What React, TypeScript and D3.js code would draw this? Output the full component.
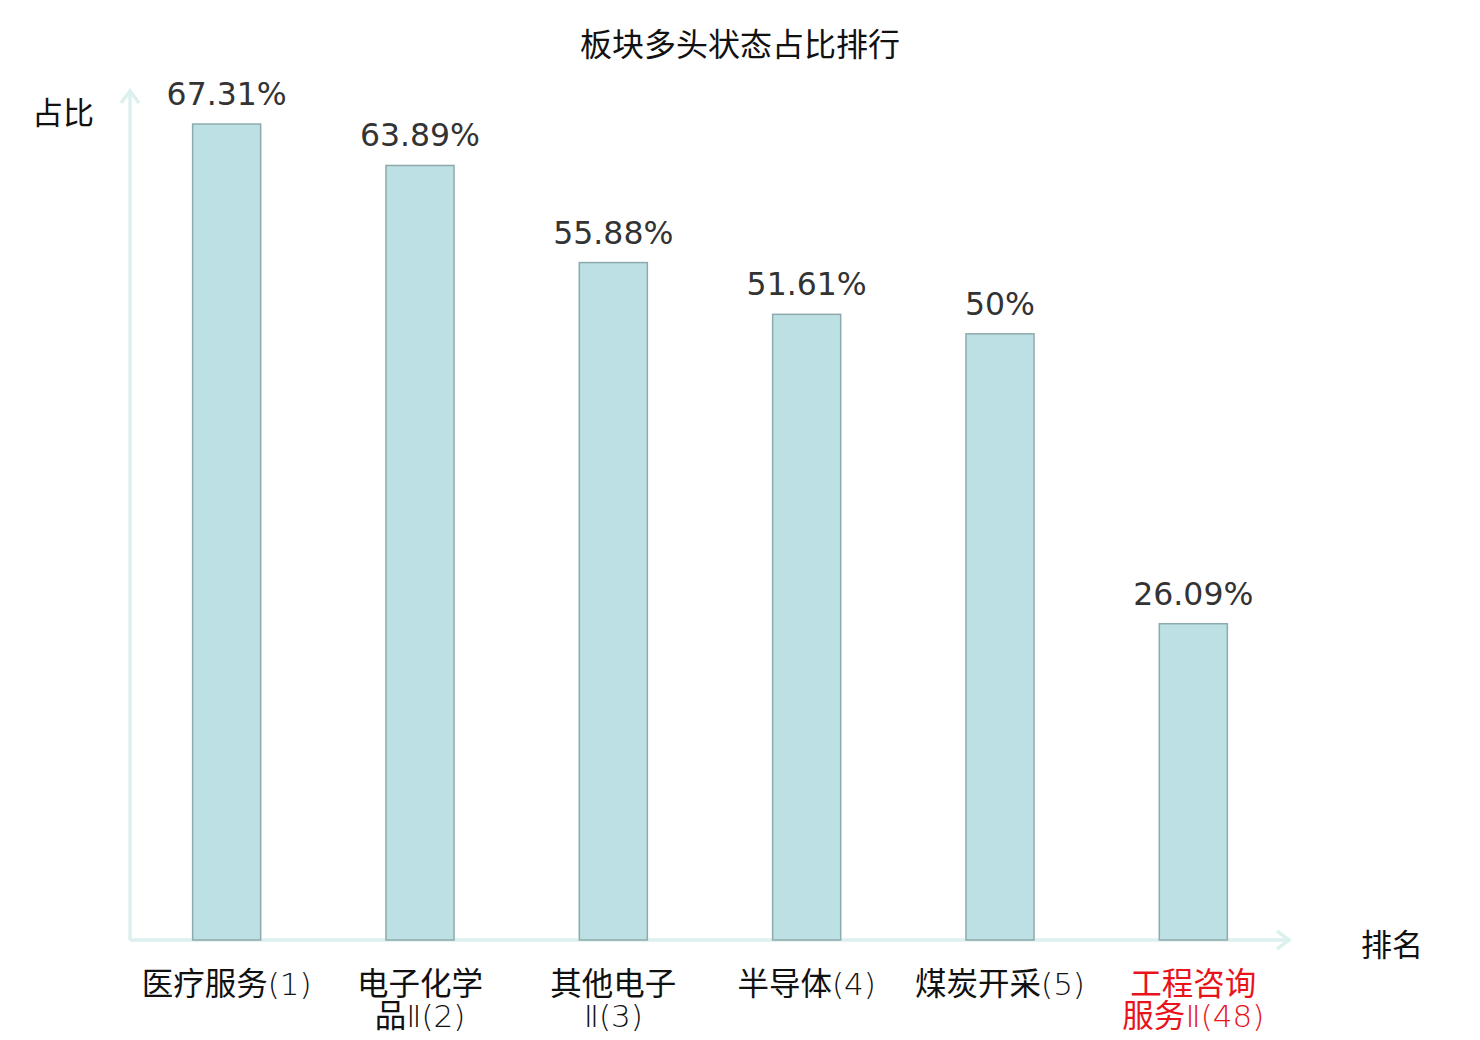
import React from "react";
import * as d3 from "d3";

const categories = ["医疗服务(1)", "电子化学品Ⅱ(2)", "其他电子Ⅱ(3)", "半导体(4)", "煤炭开采(5)", "工程咨询服务Ⅱ(48)"];
const values = [67.31, 63.89, 55.88, 51.61, 50, 26.09];
const valueLabels = ["67.31%", "63.89%", "55.88%", "51.61%", "50%", "26.09%"];
const highlighted = [false, false, false, false, false, true];

const W = 1480;
const H = 1040;
const x0 = 130;
const x1 = 1290;
const yBase = 940;
const yTop = 124;

const cjk = "'Noto Sans CJK SC', 'Noto Sans', sans-serif";
const num = "'DejaVu Sans', sans-serif";

function wrap(s: string): string[] {
  return s.length > 7 ? [s.slice(0, 4), s.slice(4)] : [s];
}

function segments(s: string): { t: string; han: boolean }[] {
  const out: { t: string; han: boolean }[] = [];
  for (const ch of s) {
    const han = /[\u4e00-\u9fff]/.test(ch);
    const last = out[out.length - 1];
    if (last && last.han === han) last.t += ch;
    else out.push({ t: ch, han });
  }
  return out;
}

export default function App() {
  const x = d3.scaleBand<string>().domain(categories).range([x0, x1]).paddingInner(0.648).paddingOuter(0.324);
  const y = d3.scaleLinear().domain([0, d3.max(values) as number]).range([yBase, yTop]);
  const axisColor = "#dcf1ee";
  return (
    <svg width={W} height={H} style={{ position: "absolute", left: 0, top: 0 }}>
      <rect width={W} height={H} fill="#fff" />
      <text x={740} y={42} textAnchor="middle" dominantBaseline="central" fontFamily={cjk} fontSize={32} fill="#111">
        板块多头状态占比排行
      </text>
      {/* axes */}
      <line x1={x0} y1={yBase} x2={x0} y2={90} stroke={axisColor} strokeWidth={3.5} />
      <polyline points={`${x0 - 9},${103} ${x0},${91} ${x0 + 9},${103}`} fill="none" stroke={axisColor} strokeWidth={3.5} />
      <line x1={x0} y1={yBase} x2={x1} y2={yBase} stroke={axisColor} strokeWidth={3.5} />
      <polyline points={`${x1 - 13},${yBase - 9} ${x1 - 1},${yBase} ${x1 - 13},${yBase + 9}`} fill="none" stroke={axisColor} strokeWidth={3.5} />
      <text x={63} y={110} textAnchor="middle" dominantBaseline="central" fontFamily={cjk} fontSize={31} fill="#111">
        占比
      </text>
      <text x={1392} y={942} textAnchor="middle" dominantBaseline="central" fontFamily={cjk} fontSize={31} fill="#111">
        排名
      </text>
      {categories.map((c, i) => {
        const bx = x(c) as number;
        const bw = x.bandwidth();
        const top = y(values[i]);
        const cx = bx + bw / 2;
        return (
          <g key={c}>
            <rect x={bx} y={top} width={bw} height={yBase - top} fill="#bce0e3" stroke="#8eaaac" strokeWidth={1.5} />
            <text x={cx} y={top - 19} textAnchor="middle" fontFamily={num} fontSize={31.5} fill="#333">
              {valueLabels[i]}
            </text>
            {wrap(c).map((line, k) => (
              <text key={k} x={cx} y={995 + k * 32} textAnchor="middle" fontFamily={cjk} fontSize={31.5} fill={highlighted[i] ? "#e8141b" : "#111"}>
                {segments(line).map((sg, j) =>
                  sg.han ? (
                    <tspan key={j}>{sg.t}</tspan>
                  ) : (
                    <tspan key={j} fontFamily={num} fontWeight={200} fontSize={31}>
                      {sg.t}
                    </tspan>
                  )
                )}
              </text>
            ))}
          </g>
        );
      })}
    </svg>
  );
}
